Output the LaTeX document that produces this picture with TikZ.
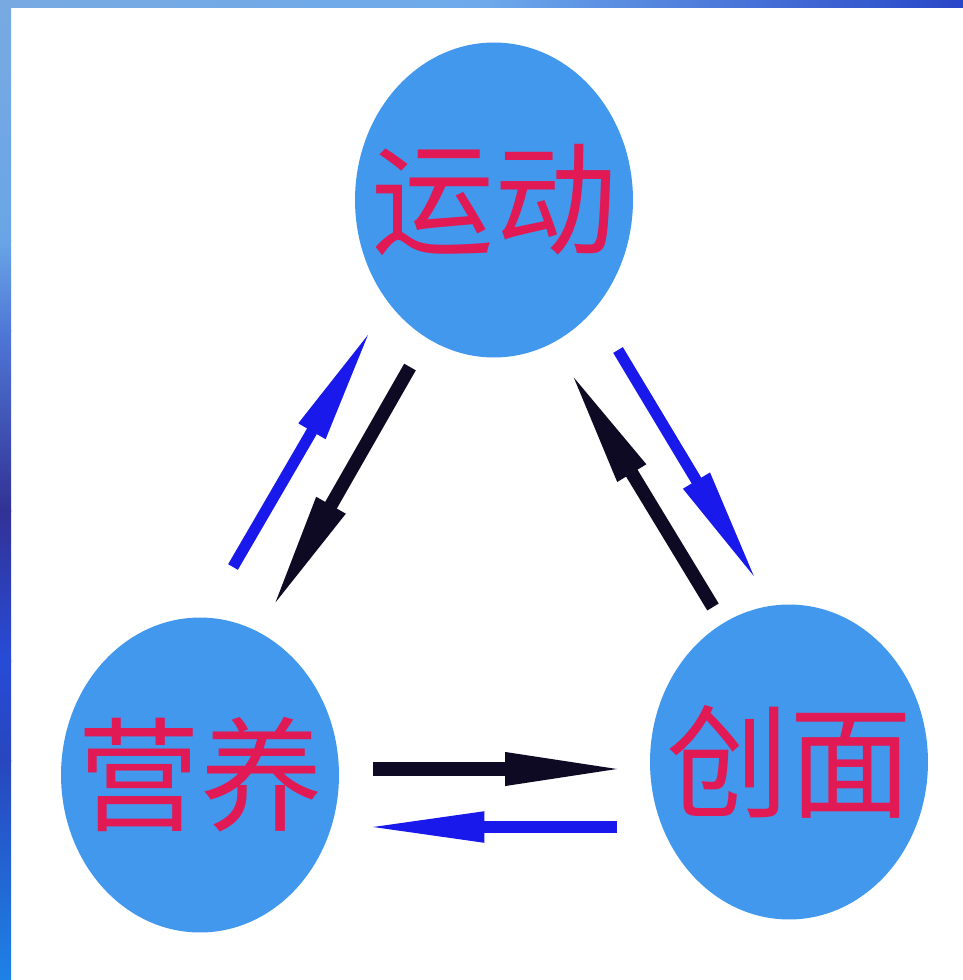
\documentclass[tikz,border=0pt]{standalone}
\usepackage{fontspec}
\newfontfamily\cjk{Noto Sans CJK SC}
\usetikzlibrary{shapes.geometric, arrows.meta}
\definecolor{ballblue}{RGB}{66,152,236}
\definecolor{ballred}{RGB}{225,25,85}
\definecolor{arrowblue}{RGB}{25,25,235}
\definecolor{arrowblack}{RGB}{15,10,35}
\definecolor{stripa}{RGB}{120,170,225}
\definecolor{stripb}{RGB}{105,165,230}
\definecolor{stripc}{RGB}{80,120,215}
\definecolor{stripd}{RGB}{50,50,150}
\definecolor{stripe}{RGB}{40,75,215}
\definecolor{stripf}{RGB}{40,70,190}
\definecolor{stripg}{RGB}{30,130,230}
\definecolor{striph}{RGB}{110,170,235}
\definecolor{stripi}{RGB}{40,70,200}

\begin{document}
\begin{tikzpicture}[x=0.02cm, y=-0.02cm]
        \tikzstyle{ball} = [ellipse, fill=ballblue, minimum width=5.56cm, minimum height=6.3cm, inner sep=0pt, text=ballred, font=\cjk\fontsize{70pt}{70pt}\selectfont];
        \tikzstyle{bluearrow} = [draw=arrowblue, line width=6.4pt, -{Triangle[length=68pt, width=16pt]}];
        \tikzstyle{blackarrow} = [draw=arrowblack, line width=7.6pt, -{Triangle[length=70pt, width=17pt]}];

        \useasboundingbox (0,0) rectangle (963,980);
        \fill[white] (0,0) rectangle (963,980);

        % frame strips
        \shade[left color=stripa, right color=striph] (0,0) rectangle (481,8);
        \shade[left color=striph, right color=stripi] (480,0) rectangle (963,8);
        \shade[top color=stripa, bottom color=stripb] (0,0) rectangle (11,241);
        \shade[top color=stripb, bottom color=stripc] (0,240) rectangle (11,331);
        \shade[top color=stripc, bottom color=stripd] (0,330) rectangle (11,511);
        \shade[top color=stripd, bottom color=stripe] (0,510) rectangle (11,661);
        \shade[top color=stripe, bottom color=stripf] (0,660) rectangle (11,761);
        \shade[top color=stripf, bottom color=stripg] (0,760) rectangle (11,980);

        \node(yundong) [ball] at (494,200) {\makebox[0pt]{运动}};
        \node(yingyang) [ball] at (200,775) {\makebox[0pt]{营养}};
        \node(chuangmian) [ball] at (789,762) {\makebox[0pt]{创面}};

        \coordinate (yytoydtail) at (233,567);
        \coordinate (yytoydtip) at (372,328);
        \coordinate (ydtoyytail) at (410,367);
        \coordinate (ydtoyytip) at (270,612);
        \coordinate (cmtoydtail) at (713,607);
        \coordinate (cmtoydtip) at (568,368);
        \coordinate (ydtocmtail) at (618,350);
        \coordinate (ydtocmtip) at (758,583);
        \coordinate (yytocmtail) at (373,769);
        \coordinate (yytocmtip) at (628,769);
        \coordinate (cmtoyytail) at (617,827);
        \coordinate (cmtoyytip) at (365,827);

        \draw[bluearrow] (yytoydtail) -- (yytoydtip);
        \draw[blackarrow] (ydtoyytail) -- (ydtoyytip);
        \draw[blackarrow] (cmtoydtail) -- (cmtoydtip);
        \draw[bluearrow] (ydtocmtail) -- (ydtocmtip);
        \draw[blackarrow] (yytocmtail) -- (yytocmtip);
        \draw[bluearrow] (cmtoyytail) -- (cmtoyytip);

    \end{tikzpicture}
\end{document}
